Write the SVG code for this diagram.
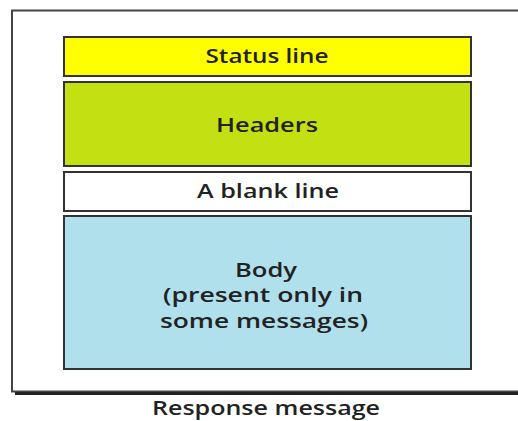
<svg xmlns="http://www.w3.org/2000/svg" width="518" height="421" viewBox="0 0 518 421">
<style>
.box{stroke:#333;stroke-width:2}
.t{font-family:"Open Sans","Liberation Sans",sans-serif;font-size:20px;font-weight:600;fill:#222;text-anchor:middle}
</style>
<rect width="518" height="421" fill="#fff"/>
<g id="frame">
<path d="M520 10.5 L12 10.5 L12 391.5 L520 391.5" fill="none" stroke="#444" stroke-width="2"/>
<line x1="15" y1="393.5" x2="520" y2="393.5" stroke="#222" stroke-width="3"/>
</g>
<g id="status"><rect class="box" x="64" y="37" width="407" height="39" fill="#ffff00"/><text class="t" x="267" y="63" textLength="123" lengthAdjust="spacingAndGlyphs">Status line</text></g>
<g id="headers"><rect class="box" x="64" y="82" width="407" height="84" fill="#c2e012"/><text class="t" x="267" y="132" textLength="102" lengthAdjust="spacingAndGlyphs">Headers</text></g>
<g id="blank"><rect class="box" x="64" y="172" width="407" height="39" fill="#fff"/><text class="t" x="268" y="198" textLength="142" lengthAdjust="spacingAndGlyphs">A blank line</text></g>
<g id="body"><rect class="box" x="64" y="216" width="407" height="153" fill="#b0e0ec"/>
<text class="t" x="266" y="277" textLength="62" lengthAdjust="spacingAndGlyphs">Body</text>
<text class="t" x="263" y="302" textLength="200" lengthAdjust="spacingAndGlyphs">(present only in</text>
<text class="t" x="264" y="328" textLength="208" lengthAdjust="spacingAndGlyphs">some messages)</text></g>
<g id="connectors"></g>
<text class="t" x="266" y="415" textLength="228" lengthAdjust="spacingAndGlyphs">Response message</text>
</svg>
